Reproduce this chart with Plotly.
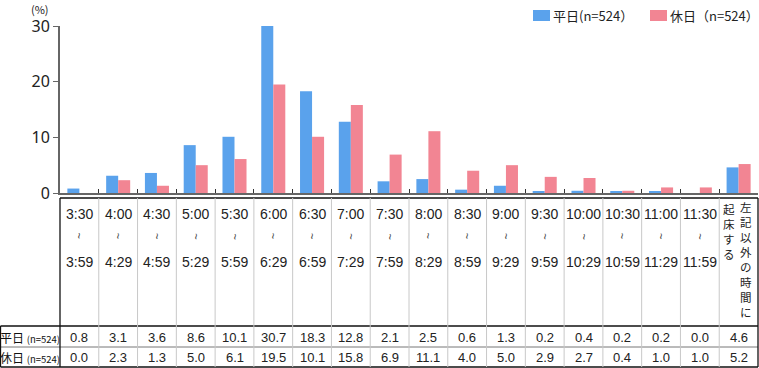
import plotly.graph_objects as go

# ---- data ----
range_start = ["3:30", "4:00", "4:30", "5:00", "5:30", "6:00", "6:30", "7:00", "7:30",
               "8:00", "8:30", "9:00", "9:30", "10:00", "10:30", "11:00", "11:30"]
range_end = ["3:59", "4:29", "4:59", "5:29", "5:59", "6:29", "6:59", "7:29", "7:59",
             "8:29", "8:59", "9:29", "9:59", "10:29", "10:59", "11:29", "11:59"]
other_label_col1 = "左記以外の時間に"
other_label_col2 = "起床する"
categories = [s + "~" + e for s, e in zip(range_start, range_end)] + [other_label_col1 + other_label_col2]

weekday = [0.8, 3.1, 3.6, 8.6, 10.1, 30.7, 18.3, 12.8, 2.1, 2.5, 0.6, 1.3, 0.2, 0.4, 0.2, 0.2, 0.0, 4.6]
holiday = [0.0, 2.3, 1.3, 5.0, 6.1, 19.5, 10.1, 15.8, 6.9, 11.1, 4.0, 5.0, 2.9, 2.7, 0.4, 1.0, 1.0, 5.2]
series_names = ["平日(n=524）", "休日（n=524）"]
row_labels = ["平日", "休日"]
row_n = "(n=524)"
y_ticks = [0, 10, 20, 30]

BLUE = "#5aa2ec"
PINK = "#f28593"
FONT = "Liberation Sans, Noto Sans CJK JP, sans-serif"

W, H = 759, 368
L, R, T, B = 60, 1, 26, 175
PW, PH = W - L - R, H - T - B
AXIS_Y = H - B  # pixel of plot bottom


def py(p):
    return (AXIS_Y - p) / PH


def pxp(p):
    return (p - L) / PW


colors = [BLUE, PINK]
fig = go.Figure()
for name, vals, col in zip(series_names, [weekday, holiday], colors):
    fig.add_trace(go.Bar(x=categories, y=vals, name=name, marker_color=col,
                         marker_line_width=0, showlegend=False))

shapes = []
ann = []
n = len(categories)

# table lines
TOP, HDR_BOT, ROW1_BOT, BOT = 198, 326, 347, 367
black = dict(color="#111", width=1.3)
gray = dict(color="#c8c8c8", width=1)
shapes.append(dict(type="line", xref="paper", yref="paper", x0=0, x1=1, y0=py(TOP), y1=py(TOP), line=black))
shapes.append(dict(type="line", xref="paper", yref="paper", x0=pxp(0.5), x1=1, y0=py(HDR_BOT), y1=py(HDR_BOT), line=black))
shapes.append(dict(type="line", xref="paper", yref="paper", x0=pxp(0.5), x1=1, y0=py(ROW1_BOT), y1=py(ROW1_BOT), line=dict(color="#777", width=1)))
shapes.append(dict(type="line", xref="paper", yref="paper", x0=pxp(0.5), x1=1, y0=py(BOT), y1=py(BOT), line=black))
shapes.append(dict(type="line", xref="paper", yref="paper", x0=0, x1=0, y0=py(TOP), y1=py(BOT), line=black))
shapes.append(dict(type="line", xref="paper", yref="paper", x0=1, x1=1, y0=py(TOP), y1=py(BOT), line=black))
shapes.append(dict(type="line", xref="paper", yref="paper", x0=pxp(0.5), x1=pxp(0.5), y0=py(HDR_BOT), y1=py(BOT), line=black))
for k in range(1, n):
    shapes.append(dict(type="line", xref="x", yref="paper", x0=k - 0.5, x1=k - 0.5,
                       y0=py(TOP), y1=py(BOT), line=gray))


def add_text(x, y, text, font, xref="x", xshift=0, xanchor="center", yanchor="middle", textangle=0):
    ann.append(dict(x=x, y=y, xref=xref, yref="paper", text=text, showarrow=False, font=font,
                    xanchor=xanchor, yanchor=yanchor, xshift=xshift, textangle=textangle,
                    borderpad=0))


txt = dict(family=FONT, size=14, color="#222")
for i, (s, e) in enumerate(zip(range_start, range_end)):
    add_text(i, py(214), s, txt)
    add_text(i, py(236), "~", dict(family=FONT, size=11, color="#444"), textangle=90)
    add_text(i, py(262), e, txt)

jp = dict(family="Noto Sans CJK JP", size=11.5, color="#222")
add_text(n - 1, py(259), "<br>".join(other_label_col1), jp, xshift=7.5)
add_text(n - 1, py(231), "<br>".join(other_label_col2), jp, xshift=-9.5)

val_font = dict(family=FONT, size=13, color="#222")
for i in range(n):
    add_text(i, py(337), f"{weekday[i]:.1f}", val_font)
    add_text(i, py(357), f"{holiday[i]:.1f}", val_font)

for lbl, yy in zip(row_labels, [337, 357]):
    add_text(pxp(30), py(yy), f"{lbl} <span style='font-size:9.5px'>{row_n}</span>",
             dict(family="Noto Sans CJK JP", size=12, color="#111"), xref="paper")

add_text(pxp(40), py(0), "(%)", dict(family="Noto Sans CJK JP", size=11, color="#222"),
         xref="paper", yanchor="top")

# legend (swatch + label)
leg_x = [533, 650]
for lx, name, col in zip(leg_x, series_names, colors):
    shapes.append(dict(type="rect", xref="paper", yref="paper", x0=pxp(lx), x1=pxp(lx + 17),
                       y0=py(21), y1=py(10), fillcolor=col, line=dict(width=0)))
    add_text(pxp(lx + 19), py(15.5), name,
             dict(family="Noto Sans CJK JP", size=13, color="#222"), xref="paper", xanchor="left")

fig.update_layout(
    width=W, height=H,
    margin=dict(l=L, r=R, t=T, b=B, pad=0, autoexpand=False),
    plot_bgcolor="white", paper_bgcolor="white",
    barmode="group", bargap=0.38, bargroupgap=0,
    showlegend=False,
    shapes=shapes, annotations=ann,
    xaxis=dict(type="category", range=[-0.5, n - 0.5], showticklabels=False,
               tickson="boundaries", ticks="inside", ticklen=4, tickcolor="#333",
               showline=True, linecolor="#666", linewidth=2, showgrid=False, zeroline=False,
               fixedrange=True),
    yaxis=dict(range=[0, 30], tickvals=y_ticks, ticks="outside", ticklen=5, tickcolor="#666",
               showline=True, linecolor="#666", linewidth=2, showgrid=False, zeroline=False,
               tickfont=dict(family="Noto Sans", size=16, color="#222"), fixedrange=True),
)

fig.write_html("out.html", config={"displayModeBar": False},
               post_script="document.body.style.margin='0';document.body.style.overflow='hidden';")
